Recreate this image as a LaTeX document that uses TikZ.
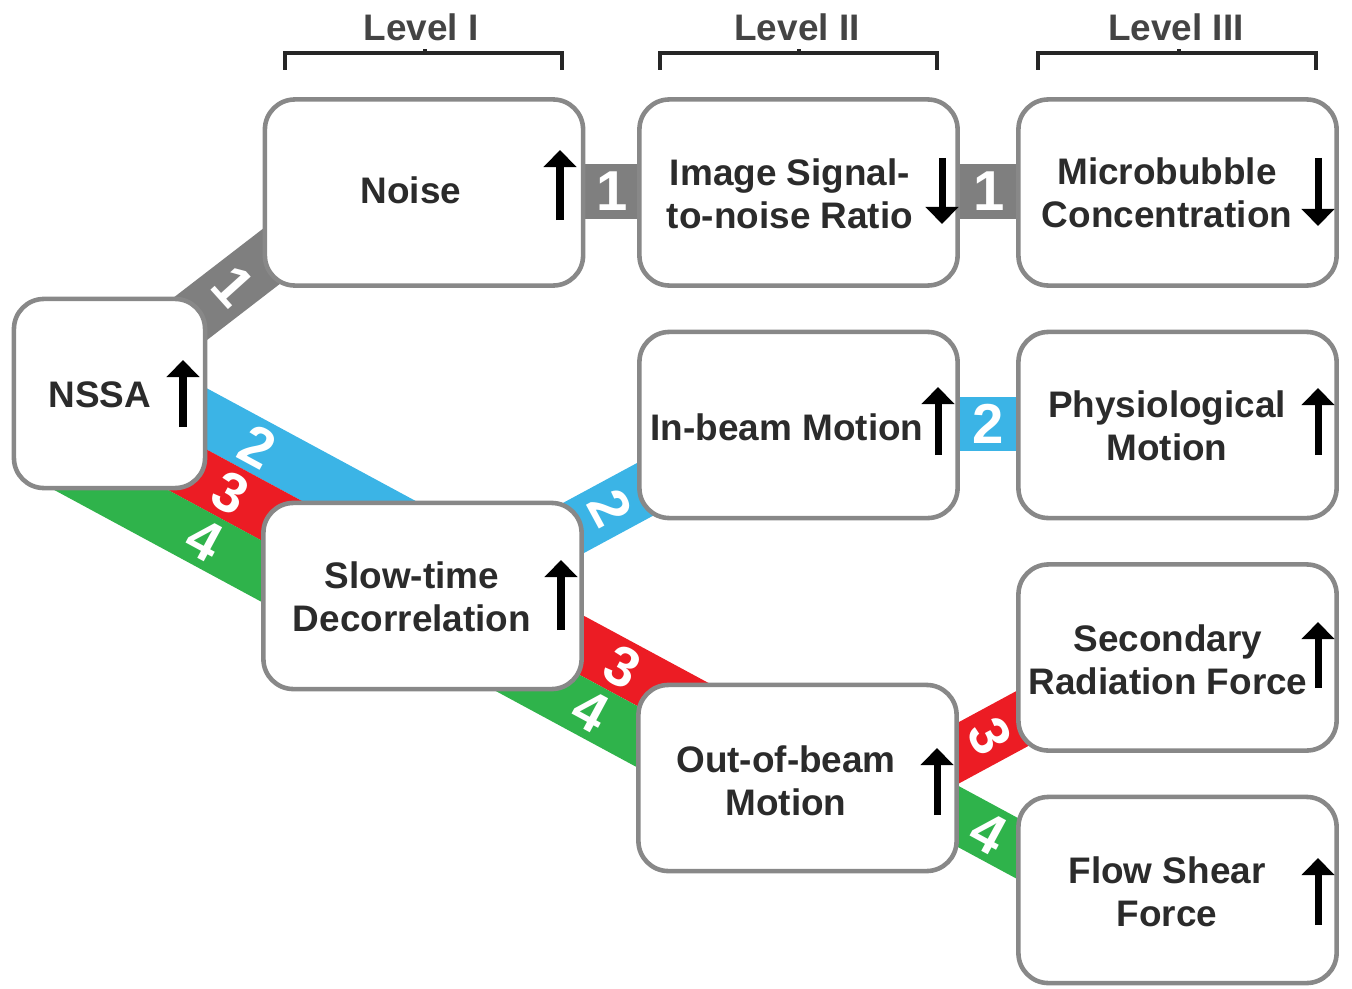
\documentclass[tikz,border=0pt]{standalone}
\usepackage{fontspec}
\setmainfont{Liberation Sans}
\usetikzlibrary{arrows.meta}
\pgfdeclarelayer{background}
\pgfsetlayers{background,main}
\definecolor{bandgray}{HTML}{7F7F7F}
\definecolor{bandblue}{HTML}{3BB4E6}
\definecolor{bandred}{HTML}{EC1C24}
\definecolor{bandgreen}{HTML}{2FB34B}
\definecolor{boxgray}{HTML}{888888}
\definecolor{txt}{HTML}{2B2B2B}
\definecolor{levgray}{HTML}{444444}
\begin{document}
\begin{tikzpicture}[x=0.01cm,y=-0.01cm,
  box/.style={draw=boxgray, line width=1.3pt, fill=white, rounded corners=0.3cm,
    minimum width=3.18cm, minimum height=1.86cm, inner sep=0pt},
  lbl/.style={font=\fontsize{10.5}{12.2}\selectfont\bfseries, text=txt, align=center, inner sep=0pt},
  band/.style={line width=0.54cm, line cap=butt},
  num/.style={font=\fontsize{16}{16}\selectfont\bfseries, text=white, inner sep=0pt},
  varrow/.style={line width=2pt, -{Triangle[width=0.32cm,length=0.17cm]}},
  bracket/.style={draw=black!85, line width=1.1pt},
  lev/.style={font=\fontsize{10.5}{12}\selectfont\bfseries, text=levgray, inner sep=0pt}]
\useasboundingbox (0,0) rectangle (1352,988);

% ---------- boxes ----------
\node[box, minimum width=1.91cm, minimum height=1.89cm] (nssa) at (109.5,393.5) {};
\node[box] (noise) at (424,192.5) {};
\node[box] (snr)   at (798.5,192.5) {};
\node[box] (micro) at (1177.5,192.5) {};
\node[box] (inbeam) at (798.5,425) {};
\node[box] (physio) at (1177.5,425) {};
\node[box] (slow)  at (422.5,596) {};
\node[box] (second) at (1177.5,657.5) {};
\node[box] (out)   at (797.5,778) {};
\node[box] (flow)  at (1177.5,890) {};

% ---------- band end points ----------
\coordinate (g1a) at (155,346);   \coordinate (g1b) at (290,242);
\coordinate (g2a) at (560,191.5); \coordinate (g2b) at (660,191.5);
\coordinate (g3a) at (935,191.5); \coordinate (g3b) at (1040,191.5);
\coordinate (b1a) at (160.2,393.8); \coordinate (b1b) at (417.2,532.5);
\coordinate (b2a) at (526,553.6);   \coordinate (b2b) at (666.8,477.6);
\coordinate (b3a) at (935,424);     \coordinate (b3b) at (1040,424);
\coordinate (r1a) at (145.1,447);   \coordinate (r1b) at (321.1,542);
\coordinate (r2a) at (547.9,627.1); \coordinate (r2b) at (724,722);
\coordinate (r3a) at (927,770);     \coordinate (r3b) at (1041.4,708.2);
\coordinate (e1a) at (49.1,456.5);  \coordinate (e1b) at (295.5,589.5);
\coordinate (e2a) at (451.8,636.6); \coordinate (e2b) at (680.6,760.1);
\coordinate (e3a) at (886.9,778);   \coordinate (e3b) at (1045.3,863.5);

\begin{pgfonlayer}{background}
\draw[band, bandgray] (g1a) -- (g1b);
\draw[band, bandgray] (g2a) -- (g2b);
\draw[band, bandgray] (g3a) -- (g3b);
\draw[band, bandblue] (b1a) -- (b1b);
\draw[band, bandblue] (b2a) -- (b2b);
\draw[band, bandblue] (b3a) -- (b3b);
\draw[band, bandred] (r1a) -- (r1b);
\draw[band, bandred] (r2a) -- (r2b);
\draw[band, bandred] (r3a) -- (r3b);
\draw[band, bandgreen] (e1a) -- (e1b);
\draw[band, bandgreen] (e2a) -- (e2b);
\draw[band, bandgreen] (e3a) -- (e3b);
\end{pgfonlayer}

% ---------- band numbers ----------
\node[num, rotate=-48] (n1a) at (233,286) {1};
\node[num] (n1b) at (612,191.5) {1};
\node[num] (n1c) at (989,191.5) {1};
\node[num, rotate=-28.4] (n2a) at (258,446.6) {2};
\node[num, rotate=-61.6] (n2b) at (610,508) {2};
\node[num] (n2c) at (988,424) {2};
\node[num, rotate=-28.4] (n3a) at (230,492.8) {3};
\node[num, rotate=-28.4] (n3b) at (622,667) {3};
\node[num, rotate=-61.6] (n3c) at (990,736) {3};
\node[num, rotate=-28.4] (n4a) at (204,540) {4};
\node[num, rotate=-28.4] (n4b) at (590,711) {4};
\node[num, rotate=-28.4] (n4c) at (988,832.5) {4};

% ---------- box texts ----------
\node[lbl] (nssa-t)   at (100,395) {NSSA};
\node[lbl] (noise-t)  at (411,190) {Noise};
\node[lbl] (snr-t)    at (790,194) {Image Signal-\\to-noise Ratio};
\node[lbl] (micro-t)  at (1167,193) {Microbubble\\Concentration};
\node[lbl] (inbeam-t) at (787,427) {In-beam Motion};
\node[lbl] (physio-t) at (1167,426) {Physiological\\Motion};
\node[lbl] (slow-t)   at (412,597) {Slow-time\\Decorrelation};
\node[lbl] (second-t) at (1168,660) {Secondary\\Radiation Force};
\node[lbl] (out-t)    at (786,781) {Out-of-beam\\Motion};
\node[lbl] (flow-t)   at (1167,892) {Flow Shear\\Force};

% ---------- up/down arrows ----------
\draw[varrow] (183,427) -- (183,360);
\draw[varrow] (560,220) -- (560,150);
\draw[varrow] (942,158) -- (942,224);
\draw[varrow] (1318,158) -- (1318,226);
\draw[varrow] (938,455) -- (938,387);
\draw[varrow] (1318,455) -- (1318,388);
\draw[varrow] (561,630) -- (561,560);
\draw[varrow] (1318,688) -- (1318,622);
\draw[varrow] (937,815) -- (937,748);
\draw[varrow] (1318,925) -- (1318,858);

% ---------- level brackets ----------
\draw[bracket] (285,70) -- (285,53) -- (562,53) -- (562,70);
\draw[bracket] (425,53) -- (425,49);
\draw[bracket] (660,70) -- (660,53) -- (937,53) -- (937,70);
\draw[bracket] (799,53) -- (799,49);
\draw[bracket] (1038,70) -- (1038,53) -- (1316,53) -- (1316,70);
\draw[bracket] (1179,53) -- (1179,49);
\node[lev] (lev1) at (421,27) {Level I};
\node[lev] (lev2) at (797,27) {Level II};
\node[lev] (lev3) at (1176,27) {Level III};
\end{tikzpicture}
\end{document}
